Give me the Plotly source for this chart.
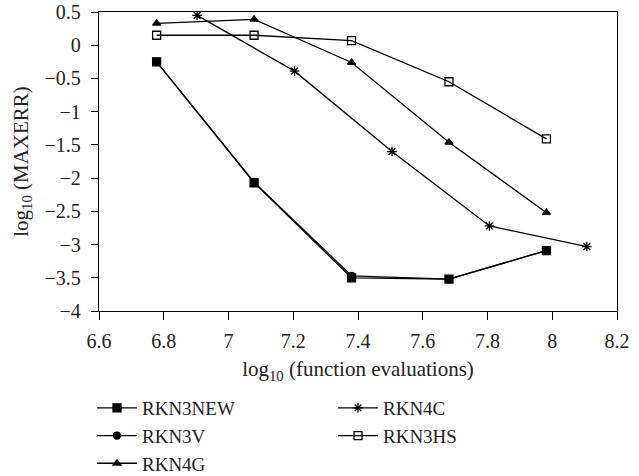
import plotly.graph_objects as go

# log10 of function evaluations
x_base = [6.778, 7.079, 7.380, 7.681, 7.982]
x_rkn4c = [6.903, 7.204, 7.505, 7.806, 8.107]

# log10 of the maximum error
y_rkn3new = [-0.25, -2.07, -3.50, -3.52, -3.09]
y_rkn3v = [-0.25, -2.06, -3.47, -3.52, -3.09]
y_rkn4g = [0.33, 0.39, -0.26, -1.46, -2.52]
y_rkn4c = [0.45, -0.39, -1.60, -2.72, -3.03]
y_rkn3hs = [0.15, 0.15, 0.07, -0.55, -1.41]

FONT = "Liberation Serif"
TEXT = "#222"

fig = go.Figure()

series = [
    ("RKN3NEW", x_base, y_rkn3new, "square", 8, "legend"),
    ("RKN3V", x_base, y_rkn3v, "circle", 7, "legend"),
    ("RKN4G", x_base, y_rkn4g, "triangle-up", 7, "legend"),
    ("RKN4C", x_rkn4c, y_rkn4c, "asterisk-open", 8, "legend2"),
    ("RKN3HS", x_base, y_rkn3hs, "square-open", 8, "legend2"),
]

for name, xs, ys, sym, size, leg in series:
    fig.add_trace(go.Scatter(
        x=xs, y=ys, name=name, mode="lines+markers",
        line=dict(color="black", width=1.3),
        marker=dict(symbol=sym, size=size, color="black",
                    line=dict(color="black", width=1.3)),
        legend=leg,
    ))

axis_common = dict(
    showline=True, linecolor="black", linewidth=1.3, mirror=True,
    ticks="outside", tickcolor="black", tickwidth=1.3,
    showgrid=False, zeroline=False, automargin=False,
    tickfont=dict(family=FONT, size=20, color=TEXT),
)

fig.update_xaxes(range=[6.6, 8.2], dtick=0.2, tick0=6.6,
                 ticklen=8, ticklabelstandoff=4,
                 title=dict(text="log<sub>10</sub> (function evaluations)",
                            font=dict(family=FONT, size=21, color=TEXT),
                            standoff=10),
                 **axis_common)
fig.update_yaxes(range=[-4, 0.5], dtick=0.5, tick0=-4,
                 ticklen=7, ticklabelstandoff=6,
                 title=dict(text="log<sub>10</sub> (MAXERR)",
                            font=dict(family=FONT, size=21, color=TEXT),
                            standoff=10),
                 **axis_common)

# plot area spans x 99..617 px and y 12..311 px
legend_common = dict(
    orientation="v", xanchor="left", yanchor="top",
    font=dict(family=FONT, size=19, color=TEXT),
    bgcolor="rgba(0,0,0,0)", tracegroupgap=0, itemwidth=40,
)

fig.update_layout(
    width=639, height=476,
    margin=dict(l=99, r=22, t=12, b=165, autoexpand=False),
    paper_bgcolor="white", plot_bgcolor="white",
    showlegend=True,
    legend=dict(x=(92 - 99) / 518, y=(311 - 389) / 299, **legend_common),
    legend2=dict(x=(333 - 99) / 518, y=(311 - 389) / 299, **legend_common),
)

fig.write_html("out.html")
